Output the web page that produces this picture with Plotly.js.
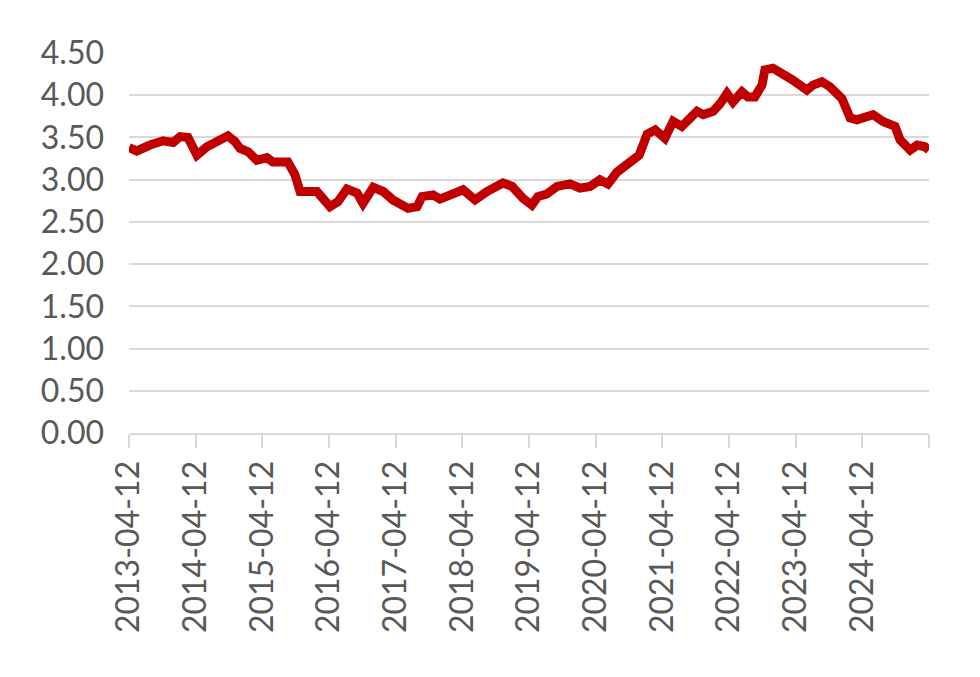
<!DOCTYPE html>
<html>
<head>
<meta charset="utf-8">
<script src="https://cdn.plot.ly/plotly-3.0.1.min.js"></script>
<style>
  html, body { margin: 0; padding: 0; background: #ffffff; }
  #chart { width: 980px; height: 677px; }
</style>
</head>
<body>
<div id="chart"></div>
<script>
const dates = [
  "2013-04-12","2013-05-25","2013-08-05","2013-10-16","2013-12-10","2014-01-17","2014-03-01",
  "2014-04-19","2014-06-13","2014-08-07","2014-10-06","2014-11-14","2014-12-11","2015-01-25",
  "2015-03-13","2015-05-07","2015-06-09","2015-08-30","2015-10-08","2015-11-05","2016-02-06",
  "2016-04-17","2016-05-31","2016-07-19","2016-09-13","2016-10-15","2016-12-10","2017-02-03",
  "2017-03-28","2017-06-19","2017-08-07","2017-09-04","2017-11-03","2017-12-11","2018-02-21",
  "2018-04-16","2018-06-21","2018-08-25","2018-11-21","2019-01-10","2019-03-10","2019-04-28",
  "2019-05-31","2019-07-19","2019-09-13","2019-11-23","2020-01-17","2020-03-12","2020-05-05",
  "2020-06-18","2020-08-07","2020-10-01","2020-12-06","2021-01-19","2021-03-04","2021-04-26",
  "2021-06-10","2021-07-28","2021-10-19","2021-11-22","2022-01-15","2022-02-23","2022-04-01",
  "2022-05-04","2022-06-22","2022-07-25","2022-09-01","2022-10-10","2022-10-26","2022-12-09",
  "2023-02-03","2023-03-28","2023-06-13","2023-07-16","2023-09-03","2023-10-17","2023-12-22",
  "2024-02-05","2024-03-13","2024-06-09","2024-08-03","2024-10-08","2024-11-05","2024-12-30",
  "2025-02-06","2025-03-21","2025-04-12"
];
const values = [
  3.38,3.34,3.41,3.46,3.44,3.51,3.50,
  3.29,3.39,3.46,3.52,3.45,3.37,3.33,
  3.23,3.26,3.21,3.21,3.06,2.86,2.86,
  2.68,2.74,2.89,2.84,2.72,2.91,2.86,
  2.76,2.66,2.68,2.80,2.82,2.77,2.82,
  2.88,2.76,2.86,2.96,2.92,2.78,2.70,
  2.80,2.83,2.92,2.95,2.90,2.92,3.00,
  2.95,3.09,3.19,3.29,3.54,3.59,3.49,
  3.69,3.63,3.81,3.77,3.81,3.90,4.02,
  3.92,4.04,3.98,3.98,4.12,4.30,4.32,
  4.26,4.18,4.06,4.12,4.16,4.10,3.96,
  3.73,3.71,3.77,3.69,3.63,3.47,3.35,
  3.41,3.39,3.35
];
const tickDates = [
  "2013-04-12","2014-04-12","2015-04-12","2016-04-12","2017-04-12","2018-04-12","2019-04-12",
  "2020-04-12","2021-04-12","2022-04-12","2023-04-12","2024-04-12","2025-04-12"
];
const tickLabels = [
  "2013-04-12","2014-04-12","2015-04-12","2016-04-12","2017-04-12","2018-04-12","2019-04-12",
  "2020-04-12","2021-04-12","2022-04-12","2023-04-12","2024-04-12",""
];
const yTicks = [0,0.5,1,1.5,2,2.5,3,3.5,4,4.5];
const yLabels = ["0.00","0.50","1.00","1.50","2.00","2.50","3.00","3.50","4.00","4.50"];

const trace = {
  x: dates, y: values, type: "scatter", mode: "lines",
  line: { color: "#C00000", width: 9, shape: "linear" },
  hoverinfo: "skip"
};
const layout = {
  width: 980, height: 677,
  margin: { l: 129, r: 51, t: 53, b: 244 },
  paper_bgcolor: "#ffffff", plot_bgcolor: "#ffffff",
  showlegend: false,
  font: { family: "Lato, 'Open Sans', sans-serif", color: "#595959", size: 32 },
  xaxis: {
    type: "date",
    range: ["2013-04-12", "2025-04-12"],
    tickmode: "array", tickvals: tickDates, ticktext: tickLabels,
    tickangle: -90,
    ticks: "outside", ticklen: 13, tickwidth: 2, tickcolor: "#d9d9d9",
    showline: true, linecolor: "#d9d9d9", linewidth: 2,
    showgrid: false, zeroline: false,
    tickfont: { size: 32, color: "#595959" }
  },
  yaxis: {
    range: [0, 4.5],
    tickmode: "array", tickvals: yTicks, ticktext: yLabels,
    showgrid: true, gridcolor: "#d9d9d9", gridwidth: 2,
    zeroline: false, showline: false, ticks: "",
    ticklabelstandoff: 24,
    tickfont: { size: 32, color: "#595959" }
  }
};
Plotly.newPlot("chart", [trace], layout, { displayModeBar: false, staticPlot: true });
</script>
</body>
</html>
